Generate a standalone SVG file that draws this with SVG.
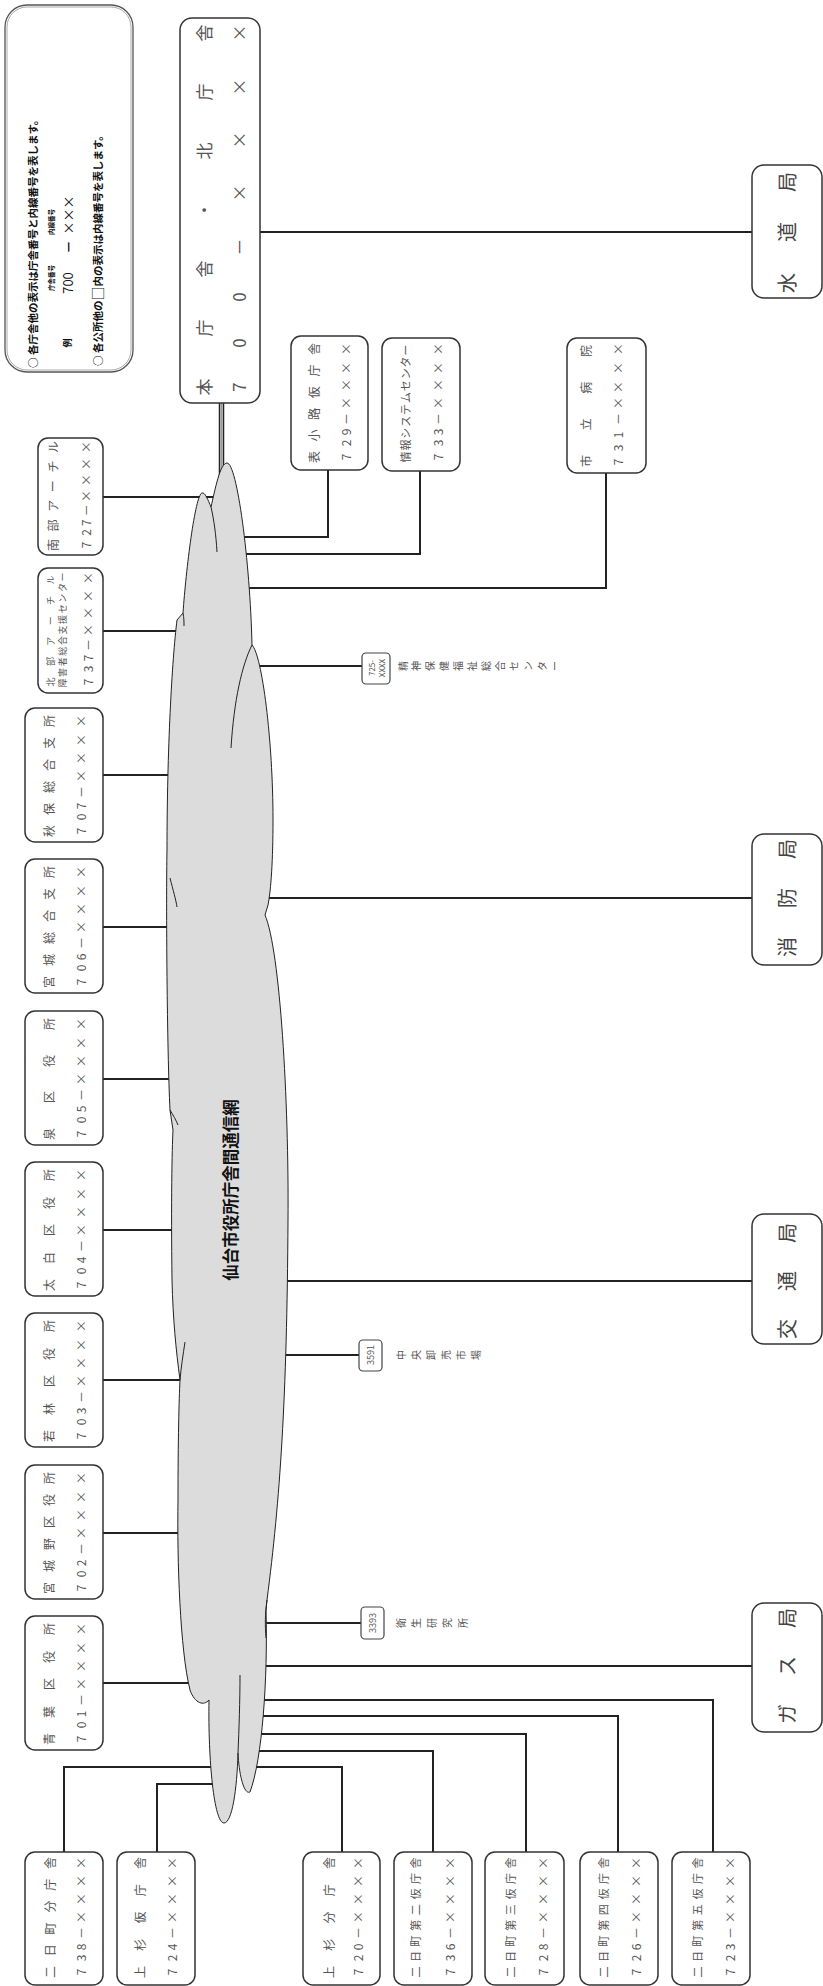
<svg xmlns="http://www.w3.org/2000/svg" width="823" height="1986" viewBox="0 0 823 1986">
<style>
.bg{fill:#fff}
.box{fill:#fff;stroke:#333;stroke-width:1.5}
.sbox{fill:#fff;stroke:#444;stroke-width:1.2}
.con{fill:none;stroke:#222;stroke-width:2}
.t{font-family:"Noto Sans CJK JP","Noto Sans",sans-serif;fill:#555;text-anchor:middle;dominant-baseline:central;font-size:12px}
.n{font-size:12px}
.s9{font-size:9px}
.big{font-size:17px}
.bur{font-size:20px;fill:#444}
.lg{font-family:"Noto Sans CJK JP","Noto Sans",sans-serif;fill:#111;font-weight:bold;dominant-baseline:central}
.lab{font-size:10px;fill:#555}
.cloud{fill:#dcdcdc;stroke:#222;stroke-width:1}
.inner{fill:none;stroke:#222;stroke-width:1}
</style>
<rect class="bg" x="0" y="0" width="823" height="1986"/>

<g id="connectors">
  <line class="con" x1="219.5" y1="403" x2="219.5" y2="480" style="stroke-width:1.5"/>
  <line class="con" x1="223.5" y1="403" x2="223.5" y2="480" style="stroke-width:1.5"/>
  <line x1="221.5" y1="403" x2="221.5" y2="480" stroke="#999" stroke-width="2"/>
  <line class="con" x1="260" y1="232" x2="752" y2="232"/>
  <line class="con" x1="103" y1="497" x2="215" y2="497"/>
  <line class="con" x1="103" y1="631" x2="200" y2="631"/>
  <line class="con" x1="103" y1="775" x2="200" y2="775"/>
  <line class="con" x1="103" y1="927" x2="200" y2="927"/>
  <line class="con" x1="103" y1="1079" x2="200" y2="1079"/>
  <line class="con" x1="103" y1="1230" x2="200" y2="1230"/>
  <line class="con" x1="103" y1="1380" x2="200" y2="1380"/>
  <line class="con" x1="103" y1="1533" x2="200" y2="1533"/>
  <line class="con" x1="103" y1="1683" x2="210" y2="1683"/>
  <path class="con" d="M230,537 H328 V470"/>
  <path class="con" d="M230,554 H420 V471"/>
  <path class="con" d="M230,588 H606 V473"/>
  <line class="con" x1="240" y1="666" x2="362" y2="666"/>
  <line class="con" x1="250" y1="898" x2="752" y2="898"/>
  <line class="con" x1="250" y1="1281" x2="752" y2="1281"/>
  <line class="con" x1="250" y1="1355" x2="359" y2="1355"/>
  <line class="con" x1="250" y1="1623" x2="361" y2="1623"/>
  <line class="con" x1="250" y1="1666" x2="752" y2="1666"/>
  <path class="con" d="M64,1852 V1767 H225"/>
  <path class="con" d="M157,1852 V1784 H225"/>
  <path class="con" d="M342,1852 V1767 H245"/>
  <path class="con" d="M433,1852 V1751 H250"/>
  <path class="con" d="M526,1852 V1734 H250"/>
  <path class="con" d="M618,1852 V1716 H250"/>
  <path class="con" d="M713,1852 V1700 H250"/>
</g>

<g id="cloud">
  <path class="cloud" d="M227,463 C237,463 250,560 252,645 C262,655 273,740 273,820 C273,860 271,890 268,905 L265,915 C280,950 289,1100 288,1220 C287,1400 280,1500 267,1600 L266,1610 C268,1680 262,1760 250,1792 C244,1795 239,1775 238,1753 C237,1790 232,1823 224,1823 C214,1823 208,1760 209,1700 C204,1706 195,1704 190,1690 C180,1650 177,1560 178,1500 C178,1440 179,1400 180,1380 C176,1350 173,1320 172,1280 C171,1200 172,1150 173,1130 L170,1110 C167,1050 166,900 167,850 C167,750 172,660 177,620 L183,613 C186,570 195,495 202,493 C205,492 208,500 211,507 C215,490 220,463 227,463 Z"/>
  <path class="inner" d="M211,507 C214,520 216,535 217,552 M252,645 C242,665 234,700 231,748 M267,1600 C265,1615 265,1625 266,1638 M240,1675 C240,1700 239,1730 238,1753 M185,1342 C183,1355 181,1368 180,1380 M170,1110 C173,1115 176,1120 178,1125 M170,878 C173,890 176,900 177,907 M183,613 C184,618 184,622 184,626"/>
  <text class="lg" transform="rotate(-90)" x="-1190" y="230" text-anchor="middle" style="font-size:16.5px">仙台市役所庁舎間通信網</text>
</g>

<g id="legend">
  <rect x="5" y="5" width="128" height="367" rx="22" fill="#fff" stroke="#555" stroke-width="1.3"/>
  <rect x="7" y="7" width="124" height="363" rx="20" fill="none" stroke="#aaa" stroke-width="1"/>
  <text class="lg" transform="rotate(-90)" x="-368" y="32" style="font-size:10.5px">○ 各庁舎他の表示は庁舎番号と内線番号を表します。</text>
  <text class="lg" transform="rotate(-90)" x="-278" y="51" text-anchor="middle" style="font-size:6.5px">庁舎番号</text>
  <text class="lg" transform="rotate(-90)" x="-222" y="51" text-anchor="middle" style="font-size:6.5px">内線番号</text>
  <text class="lg" transform="rotate(-90)" x="-343" y="67" text-anchor="middle" style="font-size:9px">例</text>
  <text class="lg" transform="rotate(-90)" x="-283" y="67" text-anchor="middle" style="font-size:13px;font-weight:normal">700</text>
  <text class="lg" transform="rotate(-90)" x="-247" y="67" text-anchor="middle" style="font-size:13px">－</text>
  <text class="lg" transform="rotate(-90)" x="-215" y="67" text-anchor="middle" style="font-size:13px;font-weight:normal">×××</text>
  <text class="lg" transform="rotate(-90)" x="-366" y="97" style="font-size:10.5px">○ 各公所他の<tspan style="font-size:14px;font-weight:normal">□</tspan>内の表示は内線番号を表します。</text>
</g>

<g id="node-honchosha">
  <rect class="box" x="180" y="18" width="80" height="385" rx="12"/>
  <text class="t big" transform="rotate(-90)" y="203" x="-387 -328 -269 -210 -151 -92 -33">本庁舎・北庁舎</text>
  <text class="t big" transform="rotate(-90)" y="238" x="-387 -343 -297 -247 -193 -140 -87 -33">700－××××</text>
</g>

<g id="node-suido">
  <rect class="box" x="752" y="165" width="70" height="133" rx="12"/>
  <text class="t bur" transform="rotate(-90)" y="786" x="-283 -232 -182">水道局</text>
</g>
<g id="node-shobo">
  <rect class="box" x="752" y="834" width="70" height="131" rx="12"/>
  <text class="t bur" transform="rotate(-90)" y="786" x="-947 -898 -849">消防局</text>
</g>
<g id="node-kotsu">
  <rect class="box" x="752" y="1214" width="70" height="130" rx="12"/>
  <text class="t bur" transform="rotate(-90)" y="786" x="-1329 -1281 -1233">交通局</text>
</g>
<g id="node-gas">
  <rect class="box" x="752" y="1603" width="70" height="129" rx="12"/>
  <text class="t bur" transform="rotate(-90)" y="786" x="-1714 -1666 -1618">ガス局</text>
</g>

<g id="node-nanbu">
  <rect class="box" x="38" y="438" width="65" height="117" rx="10"/>
  <text class="t" transform="rotate(-90)" y="52" x="-545 -525.4 -505.8 -486.2 -466.6 -447">南部アーチル</text>
  <text class="t" transform="rotate(-90)" y="85" x="-545 -532.5 -522.7 -510.3 -496 -480 -464 -447">727－××××</text>
</g>
<g id="node-hokubu">
  <rect class="box" x="38" y="568" width="65" height="125" rx="10"/>
  <text class="t s9" transform="rotate(-90)" y="50" x="-682 -661.6 -641.2 -620.8 -600.4 -580">北部アーチル</text>
  <text class="t s9" transform="rotate(-90)" y="62" x="-683 -672.4 -661.8 -651.2 -640.6 -630 -619.4 -608.8 -598.2 -587.6 -577">障害者総合支援センター</text>
  <text class="t" transform="rotate(-90)" y="87" x="-682 -669 -658 -645 -630 -613 -596 -578">737－××××</text>
</g>
<g id="node-akiu">
  <rect class="box" x="25" y="708" width="78" height="134" rx="10"/>
  <text class="t" transform="rotate(-90)" y="48" x="-831 -809 -787 -765 -743 -721">秋保総合支所</text>
  <text class="t" transform="rotate(-90)" y="80" x="-831 -817 -806 -792 -776 -758 -740 -721">707－××××</text>
</g>
<g id="node-miyagi">
  <rect class="box" x="25" y="859" width="78" height="134" rx="10"/>
  <text class="t" transform="rotate(-90)" y="48" x="-982 -960 -938 -916 -894 -872">宮城総合支所</text>
  <text class="t" transform="rotate(-90)" y="80" x="-982 -968 -957 -943 -927 -909 -891 -872">706－××××</text>
</g>
<g id="node-izumi">
  <rect class="box" x="25" y="1011" width="78" height="134" rx="10"/>
  <text class="t" transform="rotate(-90)" y="48" x="-1134 -1097 -1061 -1024">泉区役所</text>
  <text class="t" transform="rotate(-90)" y="80" x="-1134 -1120 -1109 -1095 -1079 -1061 -1043 -1024">705－××××</text>
</g>
<g id="node-taihaku">
  <rect class="box" x="25" y="1162" width="78" height="134" rx="10"/>
  <text class="t" transform="rotate(-90)" y="48" x="-1285 -1258 -1230 -1203 -1175">太白区役所</text>
  <text class="t" transform="rotate(-90)" y="80" x="-1285 -1271 -1260 -1246 -1230 -1212 -1194 -1175">704－××××</text>
</g>
<g id="node-wakabayashi">
  <rect class="box" x="25" y="1313" width="78" height="134" rx="10"/>
  <text class="t" transform="rotate(-90)" y="48" x="-1436 -1409 -1381 -1354 -1326">若林区役所</text>
  <text class="t" transform="rotate(-90)" y="80" x="-1436 -1422 -1411 -1397 -1381 -1363 -1345 -1326">703－××××</text>
</g>
<g id="node-miyaginoku">
  <rect class="box" x="25" y="1465" width="78" height="134" rx="10"/>
  <text class="t" transform="rotate(-90)" y="48" x="-1588 -1566 -1544 -1522 -1500 -1478">宮城野区役所</text>
  <text class="t" transform="rotate(-90)" y="80" x="-1588 -1574 -1563 -1549 -1533 -1515 -1497 -1478">702－××××</text>
</g>
<g id="node-aoba">
  <rect class="box" x="25" y="1616" width="78" height="134" rx="10"/>
  <text class="t" transform="rotate(-90)" y="48" x="-1739 -1712 -1684 -1657 -1629">青葉区役所</text>
  <text class="t" transform="rotate(-90)" y="80" x="-1739 -1725 -1714 -1700 -1684 -1666 -1648 -1629">701－××××</text>
</g>

<g id="node-omotekoji">
  <rect class="box" x="291" y="336" width="77" height="134" rx="10"/>
  <text class="t" transform="rotate(-90)" y="313" x="-457 -435.4 -413.8 -392.2 -370.6 -349">表小路仮庁舎</text>
  <text class="t" transform="rotate(-90)" y="345" x="-457 -443 -432 -419 -403 -385 -368 -349">729－××××</text>
</g>
<g id="node-joho">
  <rect class="box" x="382" y="338" width="78" height="133" rx="10"/>
  <text class="t" transform="rotate(-90)" y="405" x="-457 -445.1 -433.2 -421.3 -409.4 -397.6 -385.7 -373.8 -361.9 -350" style="font-size:11px">情報システムセンター</text>
  <text class="t" transform="rotate(-90)" y="437" x="-457 -443 -432 -419 -403 -385 -368 -349">733－××××</text>
</g>
<g id="node-byoin">
  <rect class="box" x="567" y="338" width="79" height="135" rx="10"/>
  <text class="t" transform="rotate(-90)" y="585" x="-461 -424.3 -387.7 -351">市立病院</text>
  <text class="t" transform="rotate(-90)" y="617" x="-462 -448 -435 -419 -403 -387 -368 -349">731－××××</text>
</g>

<g id="node-seishin">
  <rect class="sbox" x="362" y="653" width="28" height="31" rx="4"/>
  <text class="t" transform="rotate(-90)" x="-668" y="371" style="font-size:8px">725-</text>
  <text class="t" transform="rotate(-90)" x="-668" y="381" style="font-size:8px">XXXX</text>
  <text class="t lab" transform="rotate(-90)" x="-666 -666 -666 -666 -666 -666 -666 -666 -666 -666 -666 -666" y="402 415.9 429.8 443.7 457.6 471.5 485.4 499.3 513.2 527.1 541 554.9">精神保健福祉総合センター</text>
</g>
<g id="node-oroshiuri">
  <rect class="sbox" x="359" y="1340" width="23" height="31" rx="4"/>
  <text class="t" transform="rotate(-90)" x="-1355" y="370.5" style="font-size:9px">3591</text>
  <text class="t lab" transform="rotate(-90)" x="-1355 -1355 -1355 -1355 -1355 -1355" y="400 415 430 445 460 475">中央卸売市場</text>
</g>
<g id="node-eisei">
  <rect class="sbox" x="361" y="1607" width="23" height="32" rx="4"/>
  <text class="t" transform="rotate(-90)" x="-1623" y="372.5" style="font-size:9px">3393</text>
  <text class="t lab" transform="rotate(-90)" x="-1623 -1623 -1623 -1623 -1623" y="400 415.5 431 446.5 462">衛生研究所</text>
</g>

<g id="node-futsukamachi-bun">
  <rect class="box" x="25" y="1852" width="78" height="133" rx="10"/>
  <text class="t" transform="rotate(-90)" y="49" x="-1972 -1950.2 -1928.4 -1906.6 -1884.8 -1863">二日町分庁舎</text>
  <text class="t" transform="rotate(-90)" y="80" x="-1972 -1958 -1947 -1933 -1917 -1899 -1881 -1863">738－××××</text>
</g>
<g id="node-uesugi-kari">
  <rect class="box" x="117" y="1852" width="78" height="133" rx="10"/>
  <text class="t" transform="rotate(-90)" y="139" x="-1972 -1944.8 -1917.5 -1890.3 -1863">上杉仮庁舎</text>
  <text class="t" transform="rotate(-90)" y="171" x="-1972 -1958 -1947 -1933 -1917 -1899 -1881 -1863">724－××××</text>
</g>
<g id="node-uesugi-bun">
  <rect class="box" x="303" y="1852" width="77" height="133" rx="10"/>
  <text class="t" transform="rotate(-90)" y="328" x="-1972 -1944.8 -1917.5 -1890.3 -1863">上杉分庁舎</text>
  <text class="t" transform="rotate(-90)" y="357" x="-1972 -1958 -1947 -1933 -1917 -1899 -1881 -1863">720－××××</text>
</g>
<g id="node-futsukamachi-2">
  <rect class="box" x="394" y="1852" width="78" height="133" rx="10"/>
  <text class="t" transform="rotate(-90)" y="415" x="-1972 -1956.4 -1940.9 -1925.3 -1909.7 -1894.1 -1878.6 -1863" style="font-size:11px">二日町第二仮庁舎</text>
  <text class="t" transform="rotate(-90)" y="449" x="-1972 -1958 -1947 -1933 -1917 -1899 -1881 -1863">736－××××</text>
</g>
<g id="node-futsukamachi-3">
  <rect class="box" x="485" y="1852" width="79" height="133" rx="10"/>
  <text class="t" transform="rotate(-90)" y="510" x="-1972 -1956.4 -1940.9 -1925.3 -1909.7 -1894.1 -1878.6 -1863" style="font-size:11px">二日町第三仮庁舎</text>
  <text class="t" transform="rotate(-90)" y="542" x="-1972 -1958 -1947 -1933 -1917 -1899 -1881 -1863">728－××××</text>
</g>
<g id="node-futsukamachi-4">
  <rect class="box" x="580" y="1852" width="78" height="133" rx="10"/>
  <text class="t" transform="rotate(-90)" y="603" x="-1972 -1956.4 -1940.9 -1925.3 -1909.7 -1894.1 -1878.6 -1863" style="font-size:11px">二日町第四仮庁舎</text>
  <text class="t" transform="rotate(-90)" y="635" x="-1972 -1958 -1947 -1933 -1917 -1899 -1881 -1863">726－××××</text>
</g>
<g id="node-futsukamachi-5">
  <rect class="box" x="672" y="1852" width="78" height="133" rx="10"/>
  <text class="t" transform="rotate(-90)" y="697" x="-1972 -1956.4 -1940.9 -1925.3 -1909.7 -1894.1 -1878.6 -1863" style="font-size:11px">二日町第五仮庁舎</text>
  <text class="t" transform="rotate(-90)" y="729" x="-1972 -1958 -1947 -1933 -1917 -1899 -1881 -1863">723－××××</text>
</g>
</svg>
